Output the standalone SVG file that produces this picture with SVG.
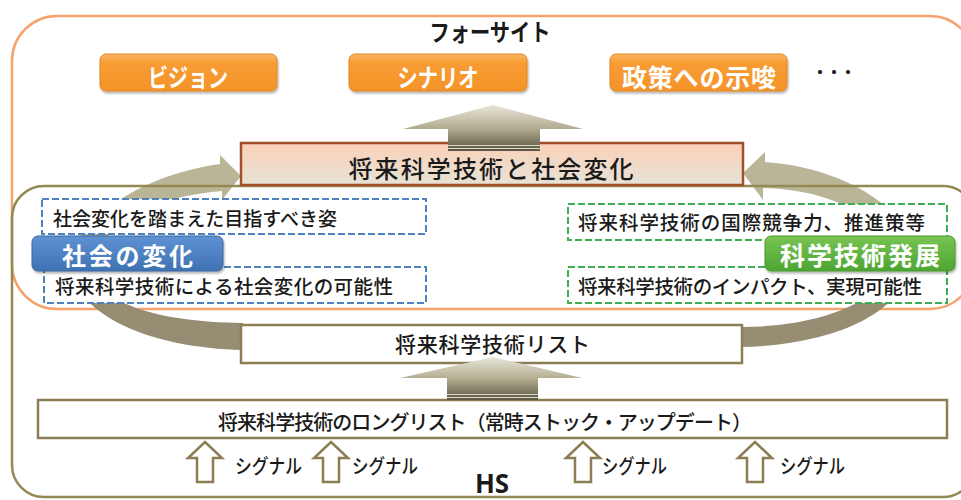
<svg xmlns="http://www.w3.org/2000/svg" width="961" height="500" viewBox="0 0 961 500">
<style>
.t{font-family:"Noto Sans CJK JP","Noto Sans",sans-serif;fill:#1a1a1a;font-weight:500}
.b{font-weight:bold}
.w{fill:#ffffff;font-weight:bold}
.frameO{fill:none;stroke:#F6A26B;stroke-width:2.5}
.frameH{fill:none;stroke:#938953;stroke-width:2.5}
.box{fill:#ffffff;stroke:#8B7E55;stroke-width:2.5}
.dashB{fill:#ffffff;stroke:#4F81BD;stroke-width:2;stroke-dasharray:7 3}
.dashG{fill:#ffffff;stroke:#3DAE52;stroke-width:2;stroke-dasharray:7 3}
.btn{fill:url(#gOr);stroke:#E0861F;stroke-width:1;filter:url(#sh)}
.sig{fill:#ffffff;stroke:#8B7E55;stroke-width:2.5;stroke-linejoin:miter}
.stripe{stroke:#DAD6C6;stroke-width:1}
</style>
<defs>
<linearGradient id="gOr" x1="0" y1="0" x2="0" y2="1">
<stop offset="0" stop-color="#FBB463"/><stop offset="0.25" stop-color="#F89C33"/><stop offset="1" stop-color="#F5932A"/>
</linearGradient>
<linearGradient id="gTop" x1="0" y1="0" x2="0" y2="1">
<stop offset="0" stop-color="#FBD0B8"/><stop offset="1" stop-color="#E6E3D6"/>
</linearGradient>
<linearGradient id="gBlue" x1="0" y1="0" x2="0" y2="1">
<stop offset="0" stop-color="#5E92D2"/><stop offset="1" stop-color="#3F72B3"/>
</linearGradient>
<linearGradient id="gGreen" x1="0" y1="0" x2="0" y2="1">
<stop offset="0" stop-color="#78C454"/><stop offset="1" stop-color="#4DA532"/>
</linearGradient>
<linearGradient id="gCurve" gradientUnits="userSpaceOnUse" x1="0" y1="150" x2="0" y2="350">
<stop offset="0.3" stop-color="#BBB598"/><stop offset="0.75" stop-color="#968D73"/>
</linearGradient>
<linearGradient id="gUp1" gradientUnits="userSpaceOnUse" x1="0" y1="105" x2="0" y2="151">
<stop offset="0" stop-color="#E9E6DA"/><stop offset="0.5" stop-color="#B3AD91"/><stop offset="1" stop-color="#5B5642"/>
</linearGradient>
<linearGradient id="gUp2" gradientUnits="userSpaceOnUse" x1="0" y1="357" x2="0" y2="400">
<stop offset="0" stop-color="#E9E6DA"/><stop offset="0.5" stop-color="#B3AD91"/><stop offset="1" stop-color="#5B5642"/>
</linearGradient>
<filter id="sh" x="-10%" y="-20%" width="120%" height="150%">
<feDropShadow dx="1" dy="2" stdDeviation="1" flood-color="#000" flood-opacity="0.3"/>
</filter>
<path id="sigArrow" d="M0,0 L17,16 L8,16 L8,40 L-8,40 L-8,16 L-17,16 Z"/>
</defs>

<rect width="961" height="500" fill="#ffffff"/>

<!-- Foresight frame -->
<g id="foresight-frame">
<rect class="frameO" x="12" y="16" width="963" height="293" rx="45" ry="45"/>
</g>

<!-- connectors -->
<g id="connectors">
<path id="cycle-left" fill="url(#gCurve)" d="M243,350 C150,348 75,315 70,265 C75,220 140,175 220,164 L220,155 L241,176 L222,200 L222,191 C150,197 100,225 95,265 C92,300 150,322 243,323 Z"/>
<path id="cycle-right" fill="url(#gCurve)" d="M742,347 C830,345 905,315 912,260 C918,215 850,168 765,162 L765,152 L743,173 L763,200 L763,188 C830,190 885,215 888,262 C890,300 820,327 742,327 Z"/>
</g>

<!-- HS frame -->
<g id="hs-frame">
<rect class="frameH" x="12" y="186" width="963" height="311" rx="32" ry="32"/>
<text class="t b" x="492" y="493" font-size="26" text-anchor="middle" style="font-family:'Noto Sans','Liberation Sans',sans-serif">HS</text>
</g>

<!-- title -->
<g id="title">
<text class="t b" x="490" y="41" font-size="24" text-anchor="middle" textLength="121" lengthAdjust="spacingAndGlyphs">フォーサイト</text>
</g>

<!-- orange output buttons -->
<g id="vision">
<rect class="btn" x="100" y="54" width="177" height="37" rx="6"/>
<text class="t w" x="188" y="87" font-size="25" text-anchor="middle" textLength="80" lengthAdjust="spacingAndGlyphs">ビジョン</text>
</g>
<g id="scenario">
<rect class="btn" x="349" y="54" width="178" height="37" rx="6"/>
<text class="t w" x="438" y="87" font-size="25" text-anchor="middle" textLength="81" lengthAdjust="spacingAndGlyphs">シナリオ</text>
</g>
<g id="policy">
<rect class="btn" x="610" y="54" width="177" height="37" rx="6"/>
<text class="t w" x="699" y="87" font-size="25" text-anchor="middle" textLength="154" lengthAdjust="spacing">政策への示唆</text>
</g>
<g id="etc">
<text class="t b" x="812" y="78" font-size="16" textLength="44" lengthAdjust="spacing">・・・</text>
</g>

<!-- dashed boxes -->
<g id="society-goal">
<rect class="dashB" x="42" y="199" width="384" height="35"/>
<text class="t" x="53" y="226" font-size="19" textLength="284" lengthAdjust="spacing">社会変化を踏まえた目指すべき姿</text>
</g>
<g id="society-possibility">
<rect class="dashB" x="44" y="267" width="382" height="36"/>
<text class="t" x="55" y="294" font-size="19.5" textLength="338" lengthAdjust="spacing">将来科学技術による社会変化の可能性</text>
</g>
<g id="tech-competitiveness">
<rect class="dashG" x="568" y="204" width="379" height="36"/>
<text class="t" x="578" y="230" font-size="19.5" textLength="347" lengthAdjust="spacing">将来科学技術の国際競争力、推進策等</text>
</g>
<g id="tech-impact">
<rect class="dashG" x="568" y="267" width="379" height="36"/>
<text class="t" x="578" y="294" font-size="19.5" textLength="344" lengthAdjust="spacing">将来科学技術のインパクト、実現可能性</text>
</g>

<!-- labels -->
<g id="society-change">
<rect x="32" y="236" width="191" height="35" rx="6" fill="url(#gBlue)" stroke="#3A679F" stroke-width="1" filter="url(#sh)"/>
<text class="t w" x="127.5" y="265" font-size="24" text-anchor="middle" textLength="131" lengthAdjust="spacing">社会の変化</text>
</g>
<g id="tech-development">
<rect x="765" y="236" width="190" height="35" rx="6" fill="url(#gGreen)" stroke="#47992E" stroke-width="1" filter="url(#sh)"/>
<text class="t w" x="860" y="265" font-size="25" text-anchor="middle" textLength="160" lengthAdjust="spacing">科学技術発展</text>
</g>

<!-- main boxes -->
<g id="future-tech-society">
<rect x="241" y="143" width="502" height="42" fill="url(#gTop)" stroke="#A24F2C" stroke-width="2.5"/>
<text class="t" x="491" y="178" font-size="24" text-anchor="middle" textLength="285" lengthAdjust="spacing">将来科学技術と社会変化</text>
</g>
<g id="future-tech-list">
<rect class="box" x="241" y="325" width="501" height="38"/>
<text class="t" x="492.5" y="352" font-size="21" text-anchor="middle" textLength="195" lengthAdjust="spacing">将来科学技術リスト</text>
</g>
<g id="long-list">
<rect class="box" x="38" y="400" width="909" height="38"/>
<text class="t" x="485" y="430" font-size="20" text-anchor="middle" textLength="534" lengthAdjust="spacing">将来科学技術のロングリスト（常時ストック・アップデート）</text>
</g>

<!-- up arrows -->
<g id="up-arrow-top">
<path d="M493,105 L583,129 L540,129 L540,151 L448,151 L448,129 L403,129 Z" fill="url(#gUp1)"/>
<line class="stripe" x1="448" y1="145.5" x2="540" y2="145.5"/>
<line class="stripe" x1="448" y1="148.5" x2="540" y2="148.5"/>
</g>
<g id="up-arrow-mid">
<path d="M493,357 L582,378 L538,378 L538,400 L447,400 L447,378 L400,378 Z" fill="url(#gUp2)"/>
<line class="stripe" x1="447" y1="394.5" x2="538" y2="394.5"/>
<line class="stripe" x1="447" y1="397.5" x2="538" y2="397.5"/>
</g>

<!-- signals -->
<g id="signal-1">
<use href="#sigArrow" class="sig" x="205" y="442"/>
<text class="t" x="235" y="474" font-size="20" textLength="67" lengthAdjust="spacingAndGlyphs">シグナル</text>
</g>
<g id="signal-2">
<use href="#sigArrow" class="sig" x="331" y="442"/>
<text class="t" x="352" y="474" font-size="20" textLength="66" lengthAdjust="spacingAndGlyphs">シグナル</text>
</g>
<g id="signal-3">
<use href="#sigArrow" class="sig" x="583" y="442"/>
<text class="t" x="602" y="474" font-size="20" textLength="65" lengthAdjust="spacingAndGlyphs">シグナル</text>
</g>
<g id="signal-4">
<use href="#sigArrow" class="sig" x="755" y="442"/>
<text class="t" x="780" y="474" font-size="20" textLength="65" lengthAdjust="spacingAndGlyphs">シグナル</text>
</g>
</svg>
